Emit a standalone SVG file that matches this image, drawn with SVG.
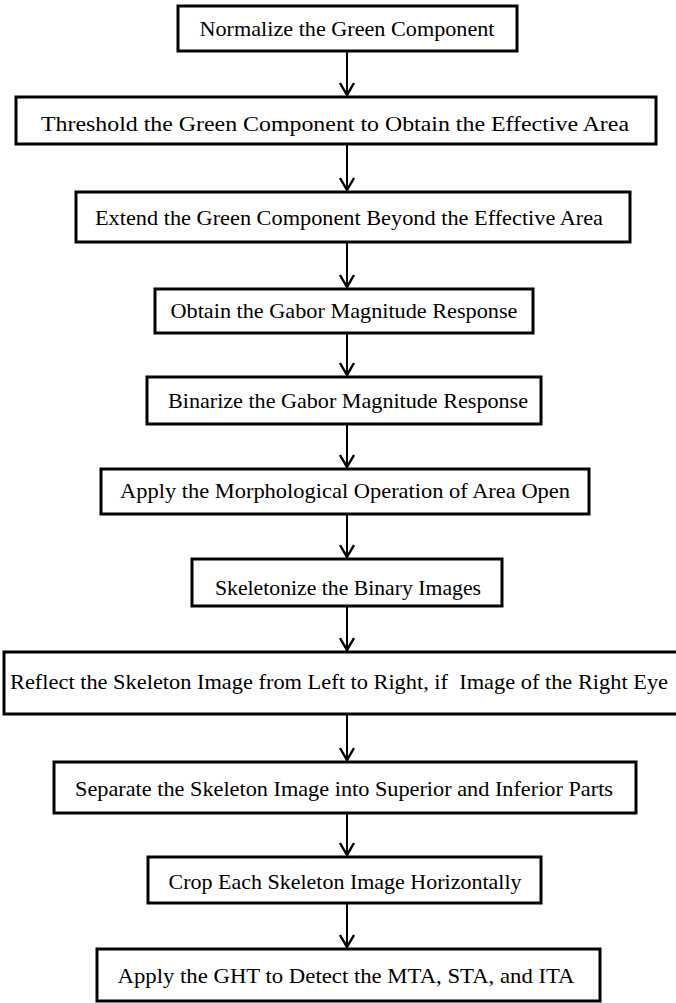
<svg xmlns="http://www.w3.org/2000/svg" width="676" height="1003" viewBox="0 0 676 1003">
<style>
.box{fill:#fff;stroke:#000;stroke-width:3}
.t{font-size:21px;fill:#000;text-anchor:middle}
.c{stroke:#000;stroke-width:2;fill:none}
</style>
<defs>
<marker id="ah" viewBox="0 0 14 16" refX="13" refY="8" markerWidth="14" markerHeight="16" markerUnits="userSpaceOnUse" orient="auto">
<path d="M1,1 L13,8 L1,15" fill="none" stroke="#000" stroke-width="2.4"/>
</marker>
</defs>
<rect width="676" height="1003" fill="#fff"/>
<g id="connectors">
<line class="c" x1="347" y1="51" x2="347" y2="95" marker-end="url(#ah)"/>
<line class="c" x1="347" y1="144" x2="347" y2="190" marker-end="url(#ah)"/>
<line class="c" x1="347" y1="242" x2="347" y2="287" marker-end="url(#ah)"/>
<line class="c" x1="347" y1="333" x2="347" y2="375" marker-end="url(#ah)"/>
<line class="c" x1="347" y1="424" x2="347" y2="467" marker-end="url(#ah)"/>
<line class="c" x1="347" y1="514" x2="347" y2="557" marker-end="url(#ah)"/>
<line class="c" x1="347" y1="606" x2="347" y2="650" marker-end="url(#ah)"/>
<line class="c" x1="347" y1="714" x2="347" y2="760" marker-end="url(#ah)"/>
<line class="c" x1="347" y1="813" x2="347" y2="855" marker-end="url(#ah)"/>
<line class="c" x1="347" y1="903" x2="347" y2="947" marker-end="url(#ah)"/>
</g>
<g font-family="'Liberation Serif', 'Times New Roman', Tinos, 'DejaVu Serif', serif">
<g id="n1"><rect class="box" x="178" y="6" width="339" height="45"/><text class="t" x="347" y="36" textLength="295" lengthAdjust="spacingAndGlyphs">Normalize the Green Component</text></g>
<g id="n2"><rect class="box" x="16" y="97" width="640" height="47"/><text class="t" x="335" y="131" textLength="588" lengthAdjust="spacingAndGlyphs">Threshold the Green Component to Obtain the Effective Area</text></g>
<g id="n3"><rect class="box" x="76" y="192" width="554" height="50"/><text class="t" x="349" y="225" textLength="508" lengthAdjust="spacingAndGlyphs">Extend the Green Component Beyond the Effective Area</text></g>
<g id="n4"><rect class="box" x="155" y="289" width="378" height="44"/><text class="t" x="344" y="318" textLength="347" lengthAdjust="spacingAndGlyphs">Obtain the Gabor Magnitude Response</text></g>
<g id="n5"><rect class="box" x="147" y="377" width="394" height="47"/><text class="t" x="348" y="408" textLength="360" lengthAdjust="spacingAndGlyphs">Binarize the Gabor Magnitude Response</text></g>
<g id="n6"><rect class="box" x="101" y="469" width="488" height="45"/><text class="t" x="345" y="498" textLength="450" lengthAdjust="spacingAndGlyphs">Apply the Morphological Operation of Area Open</text></g>
<g id="n7"><rect class="box" x="192" y="559" width="310" height="47"/><text class="t" x="348" y="595" textLength="266" lengthAdjust="spacingAndGlyphs">Skeletonize the Binary Images</text></g>
<g id="n8"><rect class="box" x="4" y="652" width="674" height="62"/><text class="t" x="339" y="689" textLength="658" lengthAdjust="spacingAndGlyphs" xml:space="preserve">Reflect the Skeleton Image from Left to Right, if  Image of the Right Eye</text></g>
<g id="n9"><rect class="box" x="54" y="762" width="582" height="51"/><text class="t" x="344" y="796" textLength="538" lengthAdjust="spacingAndGlyphs">Separate the Skeleton Image into Superior and Inferior Parts</text></g>
<g id="n10"><rect class="box" x="148" y="857" width="393" height="46"/><text class="t" x="345" y="889" textLength="353" lengthAdjust="spacingAndGlyphs">Crop Each Skeleton Image Horizontally</text></g>
<g id="n11"><rect class="box" x="97" y="949" width="503" height="52"/><text class="t" x="346" y="983" textLength="457" lengthAdjust="spacingAndGlyphs">Apply the GHT to Detect the MTA, STA, and ITA</text></g>
</g>
</svg>
